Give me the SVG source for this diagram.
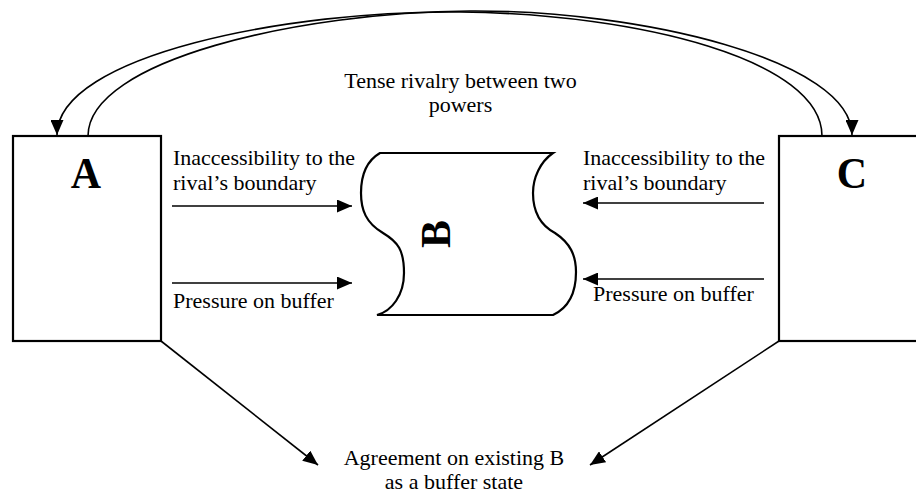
<svg xmlns="http://www.w3.org/2000/svg" width="916" height="493" viewBox="0 0 916 493">
<defs>
<style>
.box{fill:#fff;stroke:#000;stroke-width:2.2}
.ln{fill:none;stroke:#000;stroke-width:1.6}
.t{font-family:"Liberation Serif","Times New Roman",serif;font-size:22px;fill:#000}
.big{font-family:"Liberation Serif","Times New Roman",serif;font-size:42px;font-weight:bold;fill:#000}
</style>
<marker id="ah" markerUnits="userSpaceOnUse" markerWidth="16" markerHeight="13" refX="15" refY="6.5" orient="auto" viewBox="0 0 16 13">
<path d="M0,0 L15,6.5 L0,13 z" fill="#000"/>
</marker>
</defs>
<rect width="916" height="493" fill="#fff"/>
<g id="nodeA">
<rect class="box" x="13" y="136" width="148" height="205"/>
<text class="big" transform="translate(86,188) scale(1,1.07)" text-anchor="middle">A</text>
</g>
<g id="nodeC">
<rect class="box" x="779" y="136" width="160" height="205"/>
<text class="big" transform="translate(852,188) scale(1,1.07)" text-anchor="middle">C</text>
</g>
<g id="nodeB">
<path class="box" d="M380,153 L553,153 C540,162 533,178 533,193 C533,212 540,225 555,233 C570,243 576,255 576,272 C576,295 568,308 553,315 L377,315 C392,311 404,295 404,273 C404,250 398,242 383,233 C366,223 361,210 361,193 C361,173 368,160 380,153 Z"/>
<text class="big" transform="translate(437,234) rotate(-90)" x="0" y="13" text-anchor="middle">B</text>
</g>
<g id="labels">
<text class="t" x="460.5" y="88" text-anchor="middle">Tense rivalry between two</text>
<text class="t" x="460.5" y="112" text-anchor="middle">powers</text>
<text class="t" x="173" y="165">Inaccessibility to the</text>
<text class="t" x="173" y="190">rival’s boundary</text>
<text class="t" x="173" y="308">Pressure on buffer</text>
<text class="t" x="583" y="165">Inaccessibility to the</text>
<text class="t" x="583" y="190">rival’s boundary</text>
<text class="t" x="593" y="301">Pressure on buffer</text>
<text class="t" x="454" y="465" text-anchor="middle">Agreement on existing B</text>
<text class="t" x="454" y="489" text-anchor="middle">as a buffer state</text>
</g>
<g id="connectors">
<path class="ln" d="M88,136 C88,60 300,12 470,11 C640,10 852,60 852,135" marker-end="url(#ah)"/>
<path class="ln" d="M822,136 C822,60 640,14 460,12 C290,10 57,55 57,135" marker-end="url(#ah)"/>
<line class="ln" x1="172" y1="206" x2="352" y2="206" marker-end="url(#ah)"/>
<line class="ln" x1="172" y1="283" x2="352" y2="283" marker-end="url(#ah)"/>
<line class="ln" x1="764" y1="203" x2="583" y2="203" marker-end="url(#ah)"/>
<line class="ln" x1="764" y1="279" x2="583" y2="279" marker-end="url(#ah)"/>
<line class="ln" x1="161" y1="341" x2="318" y2="465" marker-end="url(#ah)"/>
<line class="ln" x1="779" y1="341" x2="590" y2="465" marker-end="url(#ah)"/>
</g>
</svg>
